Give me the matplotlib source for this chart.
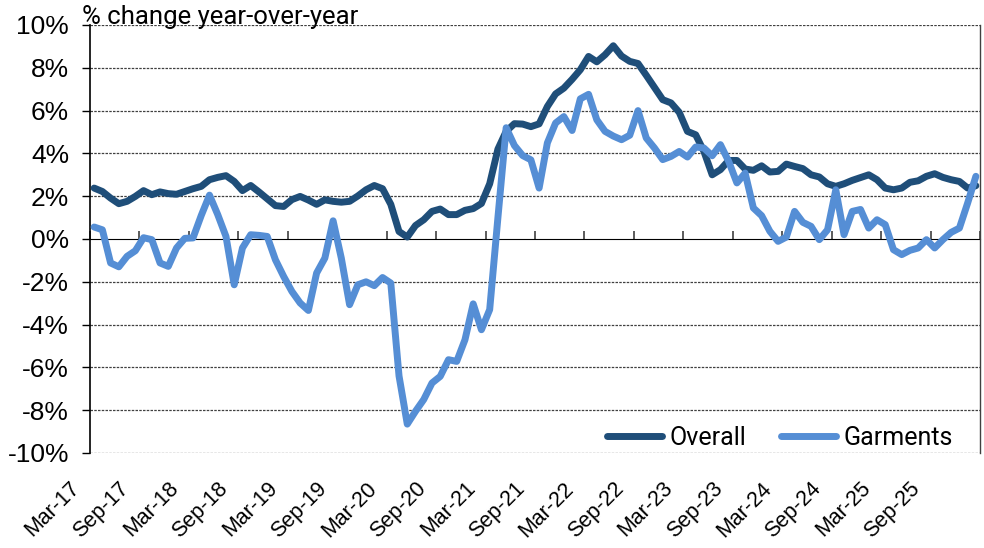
import numpy as np
import pandas as pd
import matplotlib
matplotlib.use("Agg")
import matplotlib.pyplot as plt
from matplotlib.ticker import FixedLocator, FuncFormatter
from matplotlib.transforms import ScaledTranslation

# ---------------------------------------------------------------- Data
months = pd.date_range("2017-03-01", periods=108, freq="MS")

overall = [
    2.38, 2.22, 1.91, 1.65, 1.76, 1.99, 2.26, 2.07, 2.20, 2.12,
    2.09, 2.22, 2.35, 2.46, 2.77, 2.88, 2.96, 2.69, 2.26, 2.50,
    2.20, 1.88, 1.56, 1.52, 1.84, 1.99, 1.82, 1.62, 1.83, 1.76,
    1.72, 1.76, 2.01, 2.30, 2.50, 2.35, 1.62, 0.35, 0.09, 0.63,
    0.90, 1.29, 1.40, 1.14, 1.14, 1.34, 1.42, 1.66, 2.58, 4.20,
    5.03, 5.39, 5.37, 5.25, 5.38, 6.19, 6.78, 7.05, 7.46, 7.91,
    8.53, 8.28, 8.61, 9.03, 8.55, 8.30, 8.20, 7.65, 7.08, 6.51,
    6.36, 5.92, 5.03, 4.87, 4.09, 3.00, 3.24, 3.67, 3.67, 3.27,
    3.21, 3.42, 3.13, 3.16, 3.50, 3.39, 3.29, 3.00, 2.90, 2.58,
    2.46, 2.58, 2.74, 2.87, 3.00, 2.77, 2.38, 2.30, 2.38, 2.65,
    2.72, 2.93, 3.05, 2.88, 2.77, 2.69, 2.38, 2.49,
]

garments = [
    0.56, 0.43, -1.12, -1.30, -0.81, -0.55, 0.06, -0.03, -1.12, -1.28,
    -0.42, 0.03, 0.05, 1.10, 2.05, 1.14, 0.12, -2.14, -0.42, 0.20,
    0.17, 0.12, -0.97, -1.75, -2.45, -2.99, -3.34, -1.59, -0.89, 0.85,
    -0.90, -3.07, -2.14, -2.00, -2.18, -1.80, -2.06, -6.40, -8.65, -8.05,
    -7.50, -6.73, -6.42, -5.64, -5.72, -4.71, -3.03, -4.24, -3.30, 1.00,
    5.20, 4.37, 3.90, 3.70, 2.38, 4.49, 5.42, 5.72, 5.07, 6.55,
    6.76, 5.57, 5.03, 4.81, 4.64, 4.85, 6.00, 4.72, 4.25, 3.71,
    3.86, 4.09, 3.83, 4.30, 4.25, 3.89, 4.41, 3.63, 2.62, 3.08,
    1.45, 1.09, 0.36, -0.11, 0.09, 1.29, 0.78, 0.59, -0.03, 0.43,
    2.30, 0.20, 1.29, 1.38, 0.51, 0.90, 0.67, -0.50, -0.73, -0.53,
    -0.42, -0.03, -0.42, -0.03, 0.31, 0.51, 1.68, 2.93,
]

y_ticks = list(range(-10, 11, 2))

# ---------------------------------------------------------------- Style
DARK = "#1F4E79"
LIGHT = "#558ED5"
plt.rcParams["font.family"] = ["Liberation Sans Narrow", "Liberation Sans", "DejaVu Sans"]

fig = plt.figure(figsize=(9.84, 5.48), dpi=100)
ax = fig.add_axes([90 / 984, 1 - 453 / 548, 890 / 984, 428 / 548])

x = np.arange(len(months))
ax.plot(x, overall, color=DARK, lw=5, solid_capstyle="round", solid_joinstyle="round",
        label="Overall", zorder=3)
ax.plot(x, garments, color=LIGHT, lw=5, solid_capstyle="round", solid_joinstyle="round",
        label="Garments", zorder=4)

ax.set_xlim(-0.5, len(months) - 0.5)
ax.set_ylim(-10, 10)

# y axis
ax.yaxis.set_major_locator(FixedLocator(y_ticks))
ax.yaxis.set_major_formatter(FuncFormatter(lambda v, p: f"{v:.0f}%"))
ax.tick_params(axis="y", length=6, width=1, color="black", labelsize=19, pad=9)
for v in y_ticks:
    if v != 0:
        ax.axhline(v, color="#404040", lw=0.9, ls=(0, (2, 1)), zorder=1)

ax.spines["left"].set_color("black")
ax.spines["left"].set_linewidth(1.2)
ax.spines["right"].set_color("#404040")
ax.spines["right"].set_linewidth(1.0)
ax.spines["top"].set_visible(False)
ax.spines["bottom"].set_visible(False)

# x labels at the bottom, one every six months
label_pos = x[::6]
ax.set_xticks(label_pos)
ax.set_xticklabels([d.strftime("%b-%y") for d in months[::6]], rotation=45,
                   ha="right", va="top", rotation_mode="anchor")
ax.tick_params(axis="x", length=0, labelsize=15.5, pad=0)
offset = ScaledTranslation(-25 / 100, -25 / 100, fig.dpi_scale_trans)
for lbl in ax.get_xticklabels():
    lbl.set_transform(lbl.get_transform() + offset)

# category axis line at 0% with tick marks between groups
sec = ax.secondary_xaxis(0.5)
sec.set_xticks(np.arange(-0.5, len(months), 6))
sec.tick_params(axis="x", length=6, width=1.2, color="#404040", labelbottom=False,
                labeltop=False, direction="out")
sec.spines["bottom"].set_color("#404040")
sec.spines["bottom"].set_linewidth(1.2)

# title
fig.text(82 / 984, 1 - 24 / 548, "% change year-over-year", fontsize=18.5,
         family=["Roboto", "DejaVu Sans"], va="baseline", ha="left")

leg = ax.legend(loc="lower right", ncol=2, frameon=False,
                prop={"family": ["Roboto", "DejaVu Sans"], "size": 18},
                handlelength=2.2, columnspacing=1.4, handletextpad=0.3,
                bbox_to_anchor=(0.995, -0.045))

fig.savefig("out.png", dpi=100)
